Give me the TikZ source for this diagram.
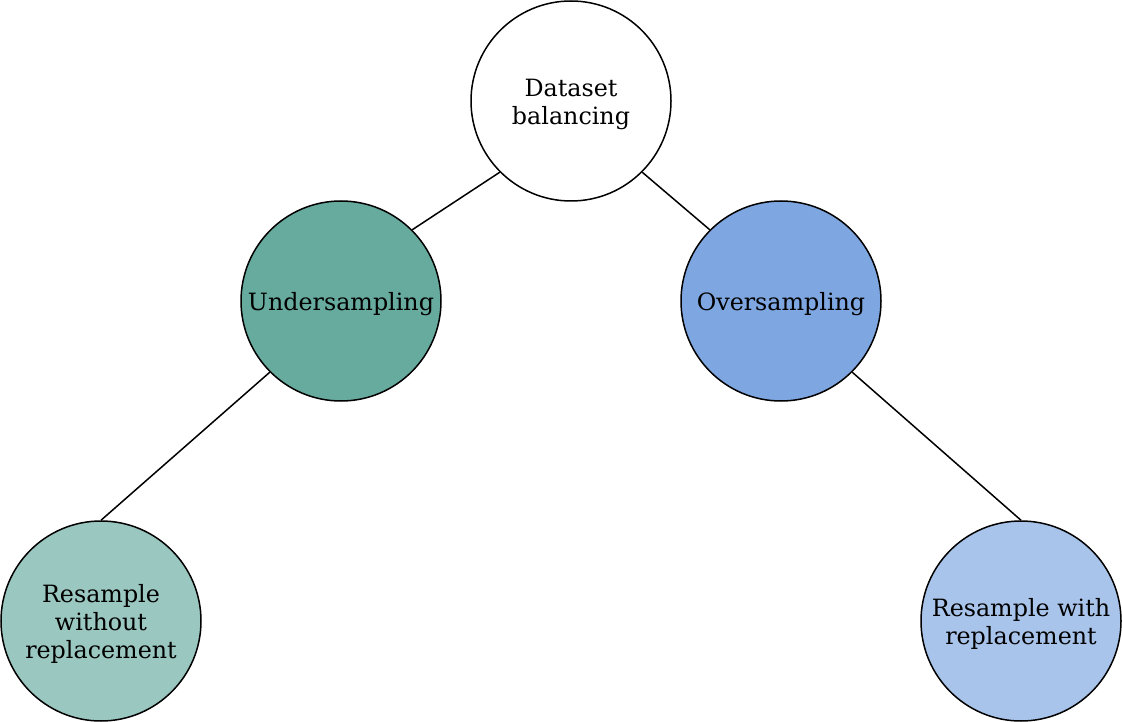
\documentclass[tikz,border=0pt]{standalone}
\usepackage{fontspec}
\setmainfont{DejaVu Serif}
\definecolor{ugreen}{HTML}{67AB9F}
\definecolor{lgreen}{HTML}{9AC7BF}
\definecolor{oblue}{HTML}{7EA6E0}
\definecolor{lblue}{HTML}{A9C4EB}
\begin{document}
\begin{tikzpicture}[x=1pt,y=-1pt,
  blob/.style={circle,draw=black,line width=1.5pt,minimum size=200pt,inner sep=0pt},
  txt/.style={align=center,inner sep=0pt,yshift=-3pt,font=\fontsize{23.8}{28}\selectfont},
  link/.style={draw=black,line width=1.5pt}]
\useasboundingbox (0,0) rectangle (1122,722);
\node[blob,fill=white,label={[txt]center:Dataset\\balancing}] (ds) at (571,101) {};
\node[blob,fill=ugreen,label={[txt]center:Undersampling}] (us) at (341,301) {};
\node[blob,fill=oblue,label={[txt]center:Oversampling}] (os) at (781,301) {};
\node[blob,fill=lgreen,label={[txt]center:Resample\\without\\replacement}] (rwo) at (101,621) {};
\node[blob,fill=lblue,label={[txt]center:Resample with\\replacement}] (rw) at (1021,621) {};
\draw[link] (ds.south west) -- (us.north east);
\draw[link] (ds.south east) -- (os.north west);
\draw[link] (us.south west) -- (rwo.north);
\draw[link] (os.south east) -- (rw.north);
\end{tikzpicture}
\end{document}
